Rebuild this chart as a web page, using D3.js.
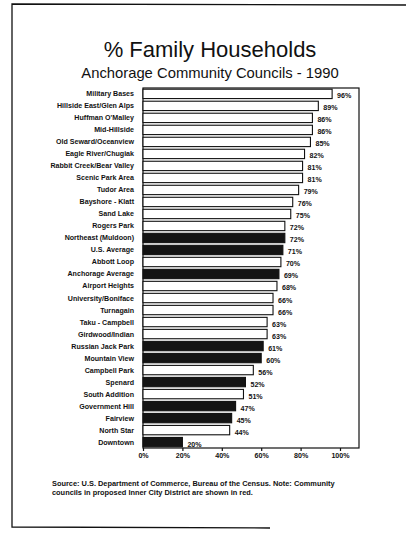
<!DOCTYPE html>
<html>
  <head>
    <meta charset="utf-8" />
    <style>
      body { margin: 0; background: #fff; }
      svg { display: block; font-family: "Liberation Sans", Arial, sans-serif; }
      .lbl { font-size: 7.1px; font-weight: bold; fill: #111; }
      .note { font-size: 7.4px; font-weight: bold; fill: #111; }
    </style>
  </head>
  <body>
    <svg></svg>
    <script src="https://d3js.org/d3.v7.min.js"></script>
    <script>
      let width = 406,
        height = 533;

      // community councils, top to bottom
      let councils = [
        "Military Bases", "Hillside East/Glen Alps", "Huffman O'Malley", "Mid-Hillside",
        "Old Seward/Oceanview", "Eagle River/Chugiak", "Rabbit Creek/Bear Valley",
        "Scenic Park Area", "Tudor Area", "Bayshore - Klatt", "Sand Lake", "Rogers Park",
        "Northeast (Muldoon)", "U.S. Average", "Abbott Loop", "Anchorage Average",
        "Airport Heights", "University/Boniface", "Turnagain", "Taku - Campbell",
        "Girdwood/Indian", "Russian Jack Park", "Mountain View", "Campbell Park",
        "Spenard", "South Addition", "Government Hill", "Fairview", "North Star", "Downtown"
      ];
      let pctFamily = [
        96, 89, 86, 86, 85, 82, 81, 81, 79, 76, 75, 72, 72, 71, 70, 69,
        68, 66, 66, 63, 63, 61, 60, 56, 52, 51, 47, 45, 44, 20
      ];
      // proposed Inner City District councils and the averages are shaded
      let shaded = [
        "Northeast (Muldoon)", "U.S. Average", "Anchorage Average", "Russian Jack Park",
        "Mountain View", "Spenard", "Government Hill", "Fairview", "Downtown"
      ];
      let ticks = [0, 20, 40, 60, 80, 100];

      let data = councils.map((c, i) => ({ name: c, value: pctFamily[i] }));

      let svg = d3.select("svg").attr("width", width).attr("height", height);

      // page border from the scan
      svg.append("path")
        .attr("d", "M406,5 L12,4 L12,527 L270,528")
        .attr("fill", "none")
        .attr("stroke", "#111")
        .attr("stroke-width", 1.3);

      svg.append("text")
        .attr("x", 210).attr("y", 57)
        .attr("text-anchor", "middle")
        .attr("font-size", 22)
        .attr("fill", "#111")
        .text("% Family Households");
      svg.append("text")
        .attr("x", 210).attr("y", 78)
        .attr("text-anchor", "middle")
        .attr("font-size", 14.8)
        .attr("fill", "#111")
        .text("Anchorage Community Councils - 1990");

      let plotLeft = 143, plotRight = 359, plotTop = 88, plotBottom = 448;

      let x = d3.scaleLinear().domain([0, 100]).range([143, 340]);
      let y = d3.scaleBand().domain(councils).range([plotTop, plotBottom]).paddingInner(0.22).paddingOuter(0.1);

      // plot frame
      svg.append("rect")
        .attr("x", plotLeft).attr("y", plotTop)
        .attr("width", plotRight - plotLeft).attr("height", plotBottom - plotTop)
        .attr("fill", "none")
        .attr("stroke", "#111")
        .attr("stroke-width", 1.2);

      svg.append("g")
        .selectAll("rect")
        .data(data)
        .enter()
        .append("rect")
        .attr("x", x(0))
        .attr("y", (d) => y(d.name))
        .attr("width", (d) => x(d.value) - x(0))
        .attr("height", y.bandwidth())
        .attr("fill", (d) => (shaded.includes(d.name) ? "#141414" : "#fff"))
        .attr("stroke", "#111")
        .attr("stroke-width", 1.1);

      // category labels
      svg.append("g")
        .selectAll("text")
        .data(data)
        .enter()
        .append("text")
        .attr("class", "lbl")
        .attr("x", 134)
        .attr("y", (d) => y(d.name) + y.bandwidth() / 2)
        .attr("dy", "0.35em")
        .attr("text-anchor", "end")
        .text((d) => d.name);

      // value labels
      svg.append("g")
        .selectAll("text")
        .data(data)
        .enter()
        .append("text")
        .attr("class", "lbl")
        .attr("x", (d) => x(d.value) + 5)
        .attr("y", (d) => y(d.name) + y.bandwidth() / 2 + 2)
        .attr("dy", "0.35em")
        .text((d) => d.value + "%");

      let axis = d3.axisBottom(x)
        .tickValues(ticks)
        .tickSize(3)
        .tickFormat((d) => d + "%");
      let ax = svg.append("g")
        .attr("transform", "translate(0," + plotBottom + ")")
        .call(axis);
      ax.select(".domain").remove();
      ax.selectAll("line").attr("stroke", "#111").attr("stroke-width", 1.2);
      ax.selectAll("text")
        .attr("class", "lbl")
        .attr("y", 5);
      ax.attr("font-family", null).attr("font-size", null);

      let note = [
        "Source: U.S. Department of Commerce, Bureau of the Census.  Note: Community",
        "councils in proposed Inner City District are shown in red."
      ];
      svg.append("g")
        .selectAll("text")
        .data(note)
        .enter()
        .append("text")
        .attr("class", "note")
        .attr("x", 52)
        .attr("y", (d, i) => 486 + i * 8.5)
        .text((d) => d);
    </script>
  </body>
</html>
